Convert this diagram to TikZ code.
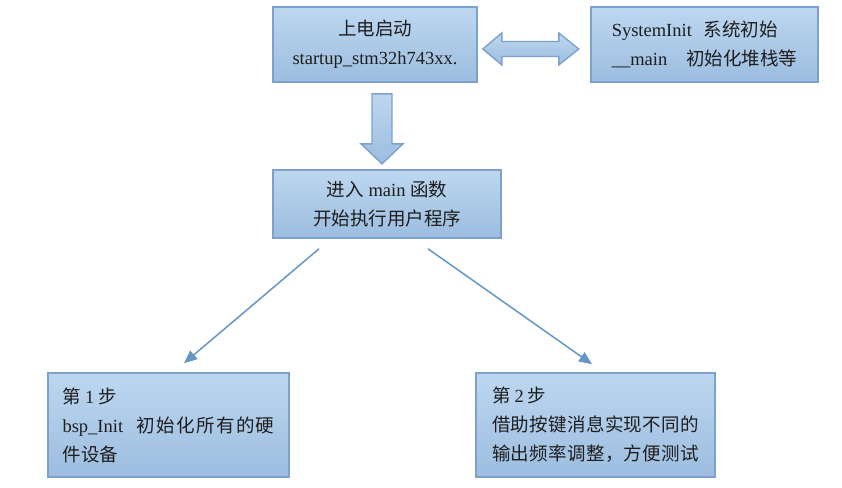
\documentclass[tikz,border=0pt]{standalone}
\usepackage{fontspec}
\setmainfont{Liberation Serif}
\newfontfamily\cjk{Noto Sans CJK SC}
\usetikzlibrary{calc,arrows.meta}
\definecolor{boxtop}{HTML}{BDD7EF}
\definecolor{boxbot}{HTML}{9CBDE0}
\definecolor{boxline}{HTML}{7DA1CC}
\definecolor{connline}{HTML}{6596C8}
\definecolor{txt}{HTML}{1E1E1E}
\begin{document}
\begin{tikzpicture}[x=1pt,y=-1pt,
  box/.style={draw=boxline, line width=1.6pt, top color=boxtop, bottom color=boxbot,
    inner sep=0pt, font=\fontsize{18.5}{29}\selectfont, text=txt},
  conn/.style={draw=connline, line width=1.5pt, -{Triangle[length=13pt,width=11pt]}},
  blockarrow/.style={draw=boxline, line width=1.4pt, top color=boxtop, bottom color=boxbot, line join=miter}]
\useasboundingbox (0,0) rectangle (842,487);

\node[box, minimum width=204pt, minimum height=75pt, align=center] (A) at (375,44.5)
  {{\cjk 上电启动}\\startup\_stm32h743xx.};
\node[box, minimum width=227pt, minimum height=75pt, align=left] (B) at (704.5,44.5)
  {SystemInit\hspace{12pt}{\cjk 系统初始}\\\_\_main\hspace{19pt}{\cjk 初始化堆栈等}};
\node[box, minimum width=228pt, minimum height=68pt, align=center] (C) at (387,204)
  {{\cjk 进入} main {\cjk 函数}\\{\cjk 开始执行用户程序}};
\node[box, minimum width=241pt, minimum height=104pt, text width=212pt, align=left] (D) at (168.5,425)
  {{\cjk 第}\hspace{4pt}1\hspace{4pt}{\cjk 步}\\
   \makebox[212pt][s]{bsp\_Init\hspace{13pt}\cjk 初\hfil 始\hfil 化\hfil 所\hfil 有\hfil 的\hfil 硬}\\
   {\cjk 件设备}};
\node[box, minimum width=239pt, minimum height=104pt, text width=207pt, align=left] (E) at (595.5,425)
  {{\cjk 第}\hspace{4pt}2\hspace{4pt}{\cjk 步}\\
   \makebox[207pt][s]{\cjk 借\hfil 助\hfil 按\hfil 键\hfil 消\hfil 息\hfil 实\hfil 现\hfil 不\hfil 同\hfil 的}\\
   \makebox[207pt][s]{\cjk 输\hfil 出\hfil 频\hfil 率\hfil 调\hfil 整\hfil ，\hfil 方\hfil 便\hfil 测\hfil 试}};

% block arrow A -> C
\coordinate (dA) at ($(A.south)+(7,11)$);
\path[blockarrow] ($(dA)+(-10,0)$) -- ++(20,0) -- ++(0,50) -- ++(11,0) -- ++(-21,20)
  -- ++(-21,-20) -- ++(11,0) -- cycle;

% double block arrow A <-> B
\coordinate (dl) at ($(A.east)+(5,4.5)$);
\path[blockarrow] (dl) -- ($(dl)+(19,-16)$) -- ($(dl)+(19,-7.5)$) -- ($(dl)+(76,-7.5)$)
  -- ($(dl)+(76,-16)$) -- ($(dl)+(96,0)$) -- ($(dl)+(76,16)$) -- ($(dl)+(76,7.5)$)
  -- ($(dl)+(19,7.5)$) -- ($(dl)+(19,16)$) -- cycle;

% connectors
\draw[conn] ($(C.south)+(-68,10)$) -- ($(D.north)+(15.5,-9)$);
\draw[conn] ($(C.south)+(41,10)$) -- ($(E.north)+(-3.5,-8)$);
\end{tikzpicture}
\end{document}
